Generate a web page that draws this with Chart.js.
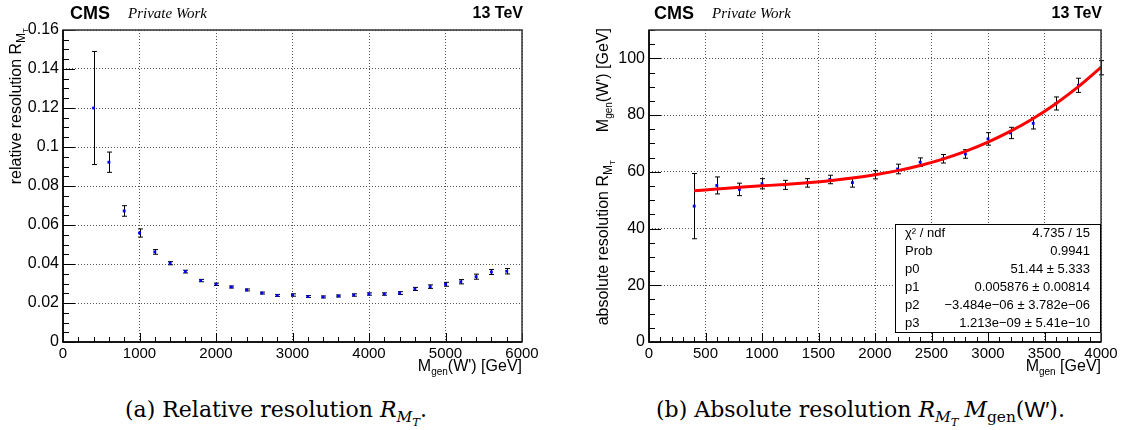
<!DOCTYPE html>
<html>
<head>
<meta charset="utf-8">
<script src="https://cdn.jsdelivr.net/npm/chart.js@4"></script>
<style>
    body { margin: 0; background: #fff; width: 1126px; height: 430px; position: relative; overflow: hidden; }
    canvas { position: absolute; top: 0; }
    #rel-chart { left: 0; }
    #abs-chart { left: 560px; }
    .caption { position: absolute; top: 397px; font-family: "DejaVu Serif", serif; font-size: 22px; line-height: 26px; white-space: nowrap; color: #000; }
    .caption sub { font-size: 70%; vertical-align: -0.35em; line-height: 0; }
    .caption sub sub { font-size: 75%; }
    .caption .w { font-family: "Liberation Sans", sans-serif; }
    .caption .m { margin-left: 6px; }
</style>
</head>
<body>
<canvas id="rel-chart" width="560" height="390"></canvas>
<canvas id="abs-chart" width="566" height="390"></canvas>
<div class="caption" id="cap-a" style="left:125px">(a) Relative resolution <i>R</i><sub><i>M</i><sub><i>T</i></sub></sub>.</div>
<div class="caption" id="cap-b" style="left:656px">(b) Absolute resolution <i>R</i><sub><i>M</i><sub><i>T</i></sub></sub><i class="m">M</i><sub>gen</sub>(<span class="w">W&prime;</span>).</div>
<script>
// Relative resolution (left plot)
const relMass = [400, 600, 800, 1000, 1200, 1400, 1600, 1800, 2000, 2200, 2400, 2600, 2800, 3000,
                 3200, 3400, 3600, 3800, 4000, 4200, 4400, 4600, 4800, 5000, 5200, 5400, 5600, 5800];
const relRes = [0.120, 0.0922, 0.0672, 0.0559, 0.0462, 0.0404, 0.0361, 0.0315, 0.0296, 0.0282, 0.0267, 0.0251, 0.0239, 0.0241,
                0.0233, 0.0231, 0.0236, 0.0241, 0.0246, 0.0246, 0.0251, 0.0272, 0.0284, 0.0296, 0.0309, 0.0335, 0.0359, 0.0363];
const relErr = [0.029, 0.0052, 0.0027, 0.0021, 0.0012, 0.0008, 0.0007, 0.0006, 0.0006, 0.0005, 0.0005, 0.0005, 0.0005, 0.0006,
                0.0005, 0.0005, 0.0005, 0.0006, 0.0006, 0.0006, 0.0007, 0.0008, 0.0009, 0.0010, 0.0011, 0.0013, 0.0013, 0.0014];

// Absolute resolution (right plot)
const absMass = [400, 600, 800, 1000, 1200, 1400, 1600, 1800, 2000, 2200, 2400, 2600, 2800, 3000, 3200, 3400, 3600, 3800, 4000];
const absRes = [47.9, 55.2, 53.8, 55.8, 55.4, 56.1, 57.3, 56.2, 59.0, 61.0, 63.4, 64.6, 66.3, 71.6, 73.7, 77.1, 84.1, 90.5, 96.7];
const absErr = [11.5, 3.0, 2.2, 1.8, 1.6, 1.5, 1.5, 1.6, 1.5, 1.7, 1.5, 1.5, 1.5, 2.2, 2.0, 2.0, 2.3, 2.5, 2.5];

// fit curve
const fitMass = [400, 600, 800, 1000, 1200, 1400, 1600, 1800, 2000, 2200, 2400, 2600, 2800, 3000, 3200, 3400, 3600, 3800, 4000];
const fitVal = [53.31, 53.97, 54.53, 55.05, 55.57, 56.17, 56.89, 57.80, 58.96, 60.42, 62.24, 64.49, 67.21, 70.46, 74.32, 78.82, 84.03, 90.02, 96.83];

// fit statistics box
const statLabels = ['\u03C7\u00B2 / ndf', 'Prob', 'p0', 'p1', 'p2', 'p3'];
const statValues = ['4.735 / 15', '0.9941', '51.44 \u00B1 5.333', '0.005876 \u00B1 0.00814',
                    '\u22123.484e\u221206 \u00B1 3.782e\u221206', '1.213e\u221209 \u00B1 5.41e\u221210'];

const SANS = '"Liberation Sans", Arial, sans-serif';
const SERIF = '"Liberation Serif", "Times New Roman", serif';

// draw a run of text pieces (for sub/superscripts)
function richText(ctx, pieces, x, y) {
    let cx = x;
    pieces.forEach(p => {
        ctx.font = p.font;
        ctx.fillText(p.t, cx, y + (p.dy || 0));
        cx += ctx.measureText(p.t).width + (p.gap || 0);
    });
    return cx;
}
function richWidth(ctx, pieces) {
    let w = 0;
    pieces.forEach(p => { ctx.font = p.font; w += ctx.measureText(p.t).width + (p.gap || 0); });
    return w;
}

// ROOT-ish decorations: frame, inward ticks, error bars, titles
function rootDecor(cfg) {
    return {
        id: 'rootDecor',
        beforeDatasetsDraw(chart) {
            const ctx = chart.ctx;
            const xs = chart.scales.x, ys = chart.scales.y;
            ctx.save();
            ctx.strokeStyle = '#000';
            ctx.lineWidth = 1;
            cfg.errX.forEach((m, i) => {
                const px = Math.round(xs.getPixelForValue(m)) + 0.5;
                const top = ys.getPixelForValue(cfg.errY[i] + cfg.err[i]);
                const bot = ys.getPixelForValue(cfg.errY[i] - cfg.err[i]);
                ctx.beginPath();
                ctx.moveTo(px, top); ctx.lineTo(px, bot);
                ctx.moveTo(px - 2.5, top); ctx.lineTo(px + 2.5, top);
                ctx.moveTo(px - 2.5, bot); ctx.lineTo(px + 2.5, bot);
                ctx.stroke();
            });
            ctx.restore();
        },
        afterDraw(chart) {
            const ctx = chart.ctx;
            const a = chart.chartArea;
            const xs = chart.scales.x, ys = chart.scales.y;
            ctx.save();

            // ticks pointing into the frame
            ctx.strokeStyle = '#000';
            ctx.lineWidth = 1;
            ctx.beginPath();
            for (let v = xs.min; v <= xs.max + 1e-9; v += cfg.xMinor) {
                const px = Math.round(xs.getPixelForValue(v)) + 0.5;
                const major = Math.abs(v / cfg.xMajor - Math.round(v / cfg.xMajor)) < 1e-6;
                ctx.moveTo(px, a.bottom); ctx.lineTo(px, a.bottom - (major ? 9 : 5));
            }
            for (let v = ys.min; v <= ys.max + 1e-9; v += cfg.yMinor) {
                const py = Math.round(ys.getPixelForValue(v)) + 0.5;
                const major = Math.abs(v / cfg.yMajor - Math.round(v / cfg.yMajor)) < 1e-6;
                ctx.moveTo(a.left, py); ctx.lineTo(a.left + (major ? 12 : 6), py);
            }
            ctx.stroke();

            // frame
            ctx.strokeStyle = '#333';
            ctx.lineWidth = 1.5;
            ctx.strokeRect(a.left, a.top, a.right - a.left, a.bottom - a.top);
            ctx.strokeStyle = '#000';
            ctx.beginPath();
            ctx.moveTo(a.left, a.top); ctx.lineTo(a.left, a.bottom); ctx.lineTo(a.right, a.bottom);
            ctx.stroke();

            // header
            ctx.fillStyle = '#000';
            ctx.textBaseline = 'alphabetic';
            ctx.textAlign = 'left';
            ctx.font = 'bold 18px ' + SANS;
            ctx.fillText('CMS', a.left + cfg.cmsDx, 19);
            ctx.font = 'italic 15px ' + SERIF;
            ctx.fillText('Private Work', a.left + cfg.cmsDx + 58, 18);
            ctx.textAlign = 'right';
            ctx.font = 'bold 16px ' + SANS;
            ctx.fillText('13 TeV', a.right + 1, 18);

            // x axis title, right aligned to the frame
            ctx.textAlign = 'left';
            const xw = richWidth(ctx, cfg.xTitle);
            richText(ctx, cfg.xTitle, a.right - xw, 371);

            // y axis title, rotated, ending at the frame top
            ctx.save();
            ctx.translate(cfg.yTitleX, a.top - 2);
            ctx.rotate(-Math.PI / 2);
            const yw = richWidth(ctx, cfg.yTitle);
            richText(ctx, cfg.yTitle, -yw, 0);
            ctx.restore();

            // fit statistics
            if (cfg.stats) {
                const bx = cfg.stats.x, by = cfg.stats.y, bw = a.right - bx, bh = cfg.stats.h;
                ctx.fillStyle = '#fff';
                ctx.fillRect(bx, by, bw, bh);
                ctx.strokeStyle = '#000';
                ctx.lineWidth = 1;
                ctx.strokeRect(bx + 0.5, by + 0.5, bw - 1, bh - 1);
                ctx.fillStyle = '#000';
                ctx.font = '13px ' + SANS;
                ctx.textBaseline = 'middle';
                const row = bh / statLabels.length;
                statLabels.forEach((lab, i) => {
                    const ty = by + row * (i + 0.5);
                    ctx.textAlign = 'left';
                    ctx.fillText(lab, bx + 10, ty);
                    ctx.textAlign = 'right';
                    ctx.fillText(statValues[i], a.right - 11, ty);
                });
            }
            ctx.restore();
        }
    };
}

function axisOpts(min, max, step, fontSize, fmt, size, isY) {
    return {
        type: 'linear',
        min: min,
        max: max,
        afterBuildTicks: s => { s.ticks = s.ticks.filter(t => Math.abs(t.value / step - Math.round(t.value / step)) < 1e-6); },
        afterFit: s => { if (isY) s.width = size; else s.height = size; },
        ticks: {
            stepSize: step,
            autoSkip: false,
            maxRotation: 0,
            padding: isY ? 4 : 3,
            color: '#000',
            font: { family: SANS, size: fontSize },
            callback: fmt
        },
        grid: {
            color: '#555',
            lineWidth: 1,
            drawTicks: false
        },
        border: { display: false, dash: [1, 2] }
    };
}

function pointsFrom(xv, yv) {
    return xv.map((x, i) => ({ x: x, y: yv[i] }));
}

// left: relative resolution
new Chart(document.getElementById('rel-chart'), {
    type: 'scatter',
    data: {
        datasets: [{
            data: pointsFrom(relMass, relRes),
            pointStyle: 'rect',
            pointRadius: 2,
            backgroundColor: '#0000ee',
            borderColor: '#0000ee',
            borderWidth: 0
        }]
    },
    options: {
        responsive: false,
        animation: false,
        events: [],
        layout: { padding: { left: 0, right: 38, top: 30, bottom: 28 } },
        plugins: { legend: { display: false }, tooltip: { enabled: false } },
        scales: {
            x: axisOpts(0, 6000, 1000, 15, v => String(v), 20, false),
            y: axisOpts(0, 0.16, 0.02, 16, v => String(+v.toFixed(2)), 63, true)
        }
    },
    plugins: [rootDecor({
        errX: relMass, errY: relRes, err: relErr,
        xMajor: 1000, xMinor: 200, yMajor: 0.02, yMinor: 0.005,
        cmsDx: 7,
        xTitle: [
            { t: 'M', font: '16px ' + SANS },
            { t: 'gen', font: '10px ' + SANS, dy: 4 },
            { t: "(W') [GeV]", font: '16px ' + SANS }
        ],
        yTitleX: 21,
        yTitle: [
            { t: 'relative resolution R', font: '16px ' + SANS },
            { t: 'M', font: '12px ' + SANS, dy: 4 },
            { t: 'T', font: '8px ' + SANS, dy: 7 }
        ]
    })]
});

// right: absolute resolution with cubic fit
new Chart(document.getElementById('abs-chart'), {
    type: 'scatter',
    data: {
        datasets: [{
            type: 'line',
            data: pointsFrom(fitMass, fitVal),
            borderColor: '#ff0000',
            borderWidth: 3,
            pointRadius: 0,
            cubicInterpolationMode: 'monotone',
            fill: false,
            order: 0
        }, {
            data: pointsFrom(absMass, absRes),
            pointStyle: 'rect',
            pointRadius: 2,
            backgroundColor: '#0000ee',
            borderColor: '#0000ee',
            borderWidth: 0,
            order: 1
        }]
    },
    options: {
        responsive: false,
        animation: false,
        events: [],
        layout: { padding: { left: 0, right: 25, top: 30, bottom: 28 } },
        plugins: { legend: { display: false }, tooltip: { enabled: false } },
        scales: {
            x: axisOpts(0, 4000, 500, 15, v => String(v), 20, false),
            y: axisOpts(0, 110, 20, 16, v => String(v), 89, true)
        }
    },
    plugins: [rootDecor({
        errX: absMass, errY: absRes, err: absErr,
        xMajor: 500, xMinor: 100, yMajor: 20, yMinor: 5,
        cmsDx: 5,
        xTitle: [
            { t: 'M', font: '16px ' + SANS },
            { t: 'gen', font: '10px ' + SANS, dy: 4 },
            { t: ' [GeV]', font: '16px ' + SANS }
        ],
        yTitleX: 48,
        yTitle: [
            { t: 'absolute resolution R', font: '16px ' + SANS },
            { t: 'M', font: '12px ' + SANS, dy: 4 },
            { t: 'T', font: '8px ' + SANS, dy: 7, gap: 28 },
            { t: 'M', font: '16px ' + SANS },
            { t: 'gen', font: '10px ' + SANS, dy: 4 },
            { t: "(W') [GeV]", font: '16px ' + SANS }
        ],
        stats: { x: 335, y: 224, h: 109 }
    })]
});
</script>
</body>
</html>
